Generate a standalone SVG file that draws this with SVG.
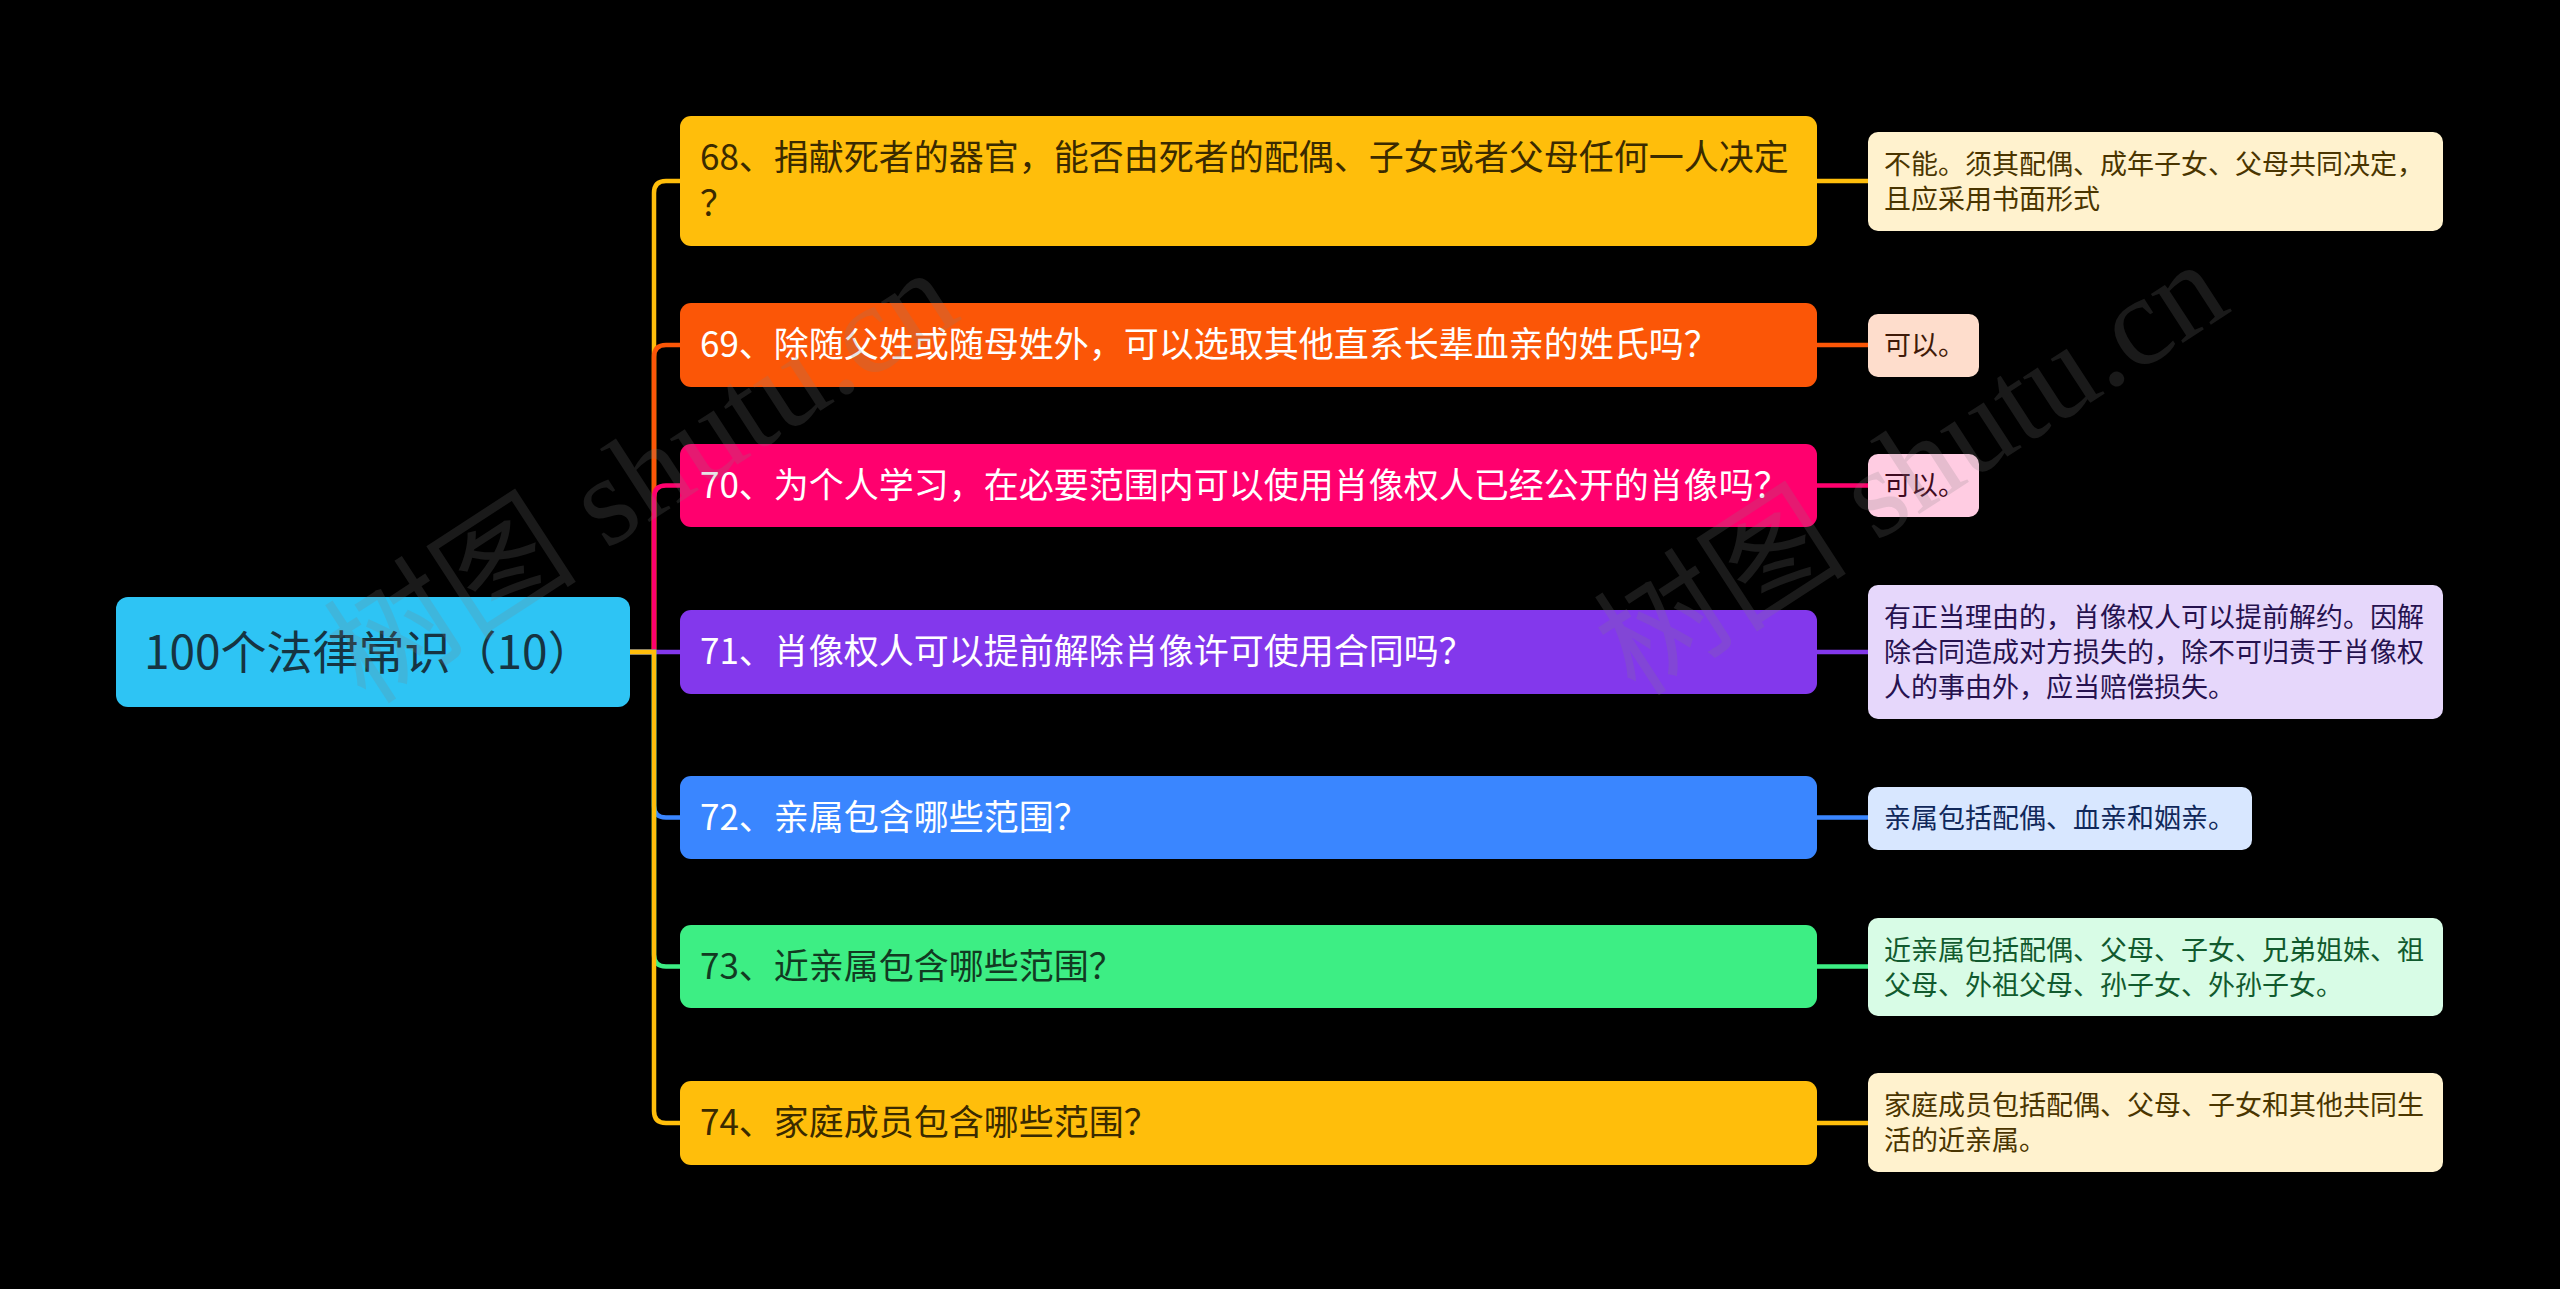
<svg xmlns="http://www.w3.org/2000/svg" width="2560" height="1289" viewBox="0 0 2560 1289">
<style>
.cn{font-family:"Noto Sans CJK SC","Noto Sans",sans-serif;}
.root{font-size:46px;fill:#163442;}
.l1{font-size:35px;}
.l2{font-size:27px;}
.c{fill:none;stroke-width:4.5;stroke-linecap:round;}
.wm{font-family:"Liberation Serif","Noto Sans CJK SC",serif;font-size:127px;fill:#808080;opacity:0.2;}
</style>
<rect x="0" y="0" width="2560" height="1289" fill="#000000"/>
<g id="connectors">
<path class="c" stroke="#FFBE0B" d="M630,652 H654 V193 Q654,181 666,181 H680"/>
<path class="c" stroke="#FB5607" d="M630,652 H654 V357 Q654,345 666,345 H680"/>
<path class="c" stroke="#FF006E" d="M630,652 H654 V497.5 Q654,485.5 666,485.5 H680"/>
<path class="c" stroke="#8338EC" d="M630,652 H680"/>
<path class="c" stroke="#3A86FF" d="M630,652 H654 V805.5 Q654,817.5 666,817.5 H680"/>
<path class="c" stroke="#3DEE84" d="M630,652 H654 V954.5 Q654,966.5 666,966.5 H680"/>
<path class="c" stroke="#FFBE0B" d="M630,652 H654 V1111 Q654,1123 666,1123 H680"/>
<path class="c" stroke="#FFBE0B" d="M1817,181 H1868"/>
<path class="c" stroke="#FB5607" d="M1817,345 H1868"/>
<path class="c" stroke="#FF006E" d="M1817,485.5 H1868"/>
<path class="c" stroke="#8338EC" d="M1817,652 H1868"/>
<path class="c" stroke="#3A86FF" d="M1817,817.5 H1868"/>
<path class="c" stroke="#3DEE84" d="M1817,966.5 H1868"/>
<path class="c" stroke="#FFBE0B" d="M1817,1123 H1868"/>
</g>
<g id="root">
<rect x="116" y="597" width="514" height="110" rx="12" fill="#2EC4F4"/>
<text class="cn root" x="144" y="669">100个法律常识（10）</text>
</g>
<g id="q68">
<rect x="680" y="116" width="1137" height="130" rx="11" fill="#FFBE0B"/>
<text class="cn l1" x="700" y="170" fill="#3A2A00">68、捐献死者的器官，能否由死者的配偶、子女或者父母任何一人决定</text>
<text class="cn l1" x="700" y="216" fill="#3A2A00">？</text>
</g>
<g id="q69">
<rect x="680" y="303" width="1137" height="84" rx="11" fill="#FB5607"/>
<text class="cn l1" x="700" y="357" fill="#FFFFFF">69、除随父姓或随母姓外，可以选取其他直系长辈血亲的姓氏吗？</text>
</g>
<g id="q70">
<rect x="680" y="444" width="1137" height="83" rx="11" fill="#FF006E"/>
<text class="cn l1" x="700" y="497.5" fill="#FFFFFF">70、为个人学习，在必要范围内可以使用肖像权人已经公开的肖像吗？</text>
</g>
<g id="q71">
<rect x="680" y="610" width="1137" height="84" rx="11" fill="#8338EC"/>
<text class="cn l1" x="700" y="664" fill="#FFFFFF">71、肖像权人可以提前解除肖像许可使用合同吗？</text>
</g>
<g id="q72">
<rect x="680" y="776" width="1137" height="83" rx="11" fill="#3A86FF"/>
<text class="cn l1" x="700" y="829.5" fill="#FFFFFF">72、亲属包含哪些范围？</text>
</g>
<g id="q73">
<rect x="680" y="925" width="1137" height="83" rx="11" fill="#3DEE84"/>
<text class="cn l1" x="700" y="978.5" fill="#123A22">73、近亲属包含哪些范围？</text>
</g>
<g id="q74">
<rect x="680" y="1081" width="1137" height="84" rx="11" fill="#FFBE0B"/>
<text class="cn l1" x="700" y="1135" fill="#3A2A00">74、家庭成员包含哪些范围？</text>
</g>
<g id="a68">
<rect x="1868" y="132" width="575" height="99" rx="10" fill="#FFF2CE"/>
<text class="cn l2" x="1884" y="174" fill="#4A3500">不能。须其配偶、成年子女、父母共同决定，</text>
<text class="cn l2" x="1884" y="209" fill="#4A3500">且应采用书面形式</text>
</g>
<g id="a69">
<rect x="1868" y="314" width="111" height="63" rx="10" fill="#FEDDCC"/>
<text class="cn l2" x="1884" y="355" fill="#3F1A08">可以。</text>
</g>
<g id="a70">
<rect x="1868" y="454" width="111" height="63" rx="10" fill="#FFCCE2"/>
<text class="cn l2" x="1884" y="495" fill="#3F0A20">可以。</text>
</g>
<g id="a71">
<rect x="1868" y="585" width="575" height="134" rx="10" fill="#E6D7FB"/>
<text class="cn l2" x="1884" y="627" fill="#26124F">有正当理由的，肖像权人可以提前解约。因解</text>
<text class="cn l2" x="1884" y="662" fill="#26124F">除合同造成对方损失的，除不可归责于肖像权</text>
<text class="cn l2" x="1884" y="697" fill="#26124F">人的事由外，应当赔偿损失。</text>
</g>
<g id="a72">
<rect x="1868" y="787" width="384" height="63" rx="10" fill="#D8E7FF"/>
<text class="cn l2" x="1884" y="828" fill="#10285A">亲属包括配偶、血亲和姻亲。</text>
</g>
<g id="a73">
<rect x="1868" y="918" width="575" height="98" rx="10" fill="#D8FCE6"/>
<text class="cn l2" x="1884" y="960" fill="#115A2E">近亲属包括配偶、父母、子女、兄弟姐妹、祖</text>
<text class="cn l2" x="1884" y="995" fill="#115A2E">父母、外祖父母、孙子女、外孙子女。</text>
</g>
<g id="a74">
<rect x="1868" y="1073" width="575" height="99" rx="10" fill="#FFF2CE"/>
<text class="cn l2" x="1884" y="1115" fill="#4A3500">家庭成员包括配偶、父母、子女和其他共同生</text>
<text class="cn l2" x="1884" y="1150" fill="#4A3500">活的近亲属。</text>
</g>
<g id="watermark">
<text class="wm" transform="translate(366,706) rotate(-33)">树图 shutu.cn</text>
<text class="wm" transform="translate(1636,698) rotate(-33)">树图 shutu.cn</text>
</g>
</svg>
